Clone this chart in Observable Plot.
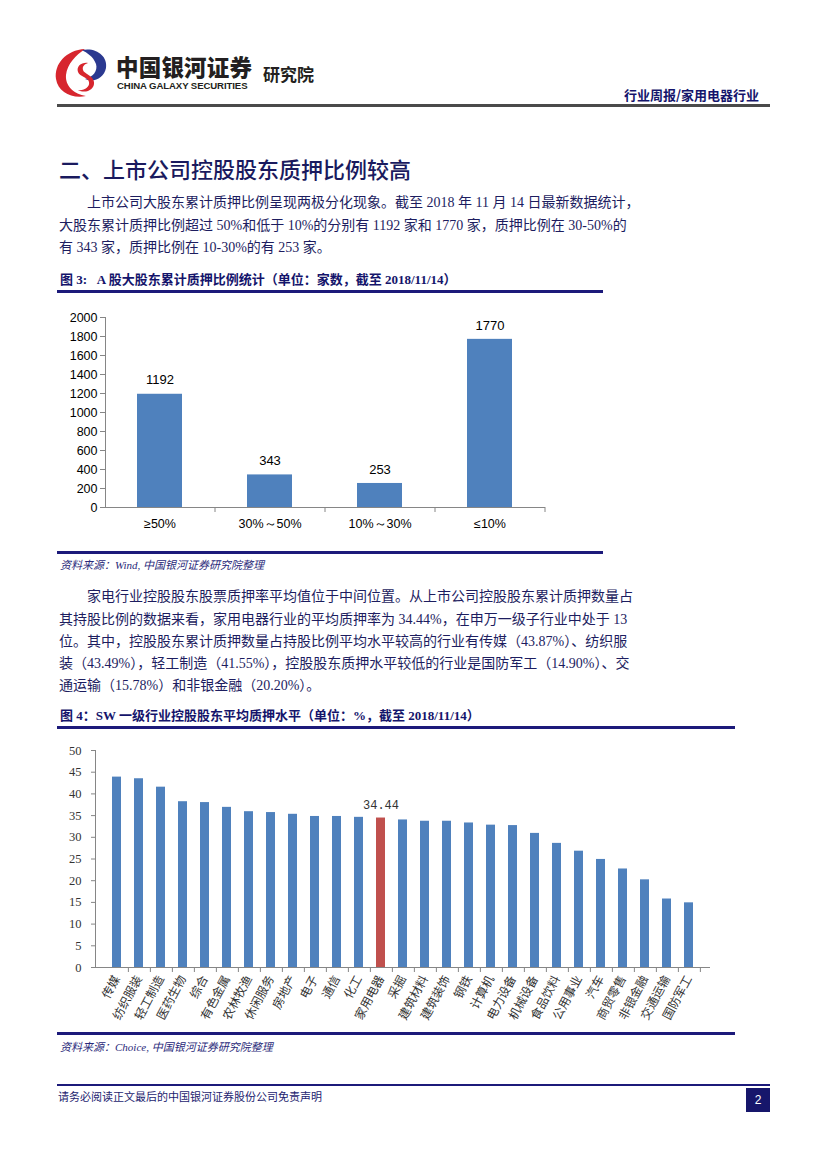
<!DOCTYPE html>
<html><head><meta charset="utf-8">
<script src="https://cdn.jsdelivr.net/npm/d3@7"></script>
<script src="https://cdn.jsdelivr.net/npm/@observablehq/plot@0.6"></script>
<style>
html,body{margin:0;padding:0;background:#fff;}
body{width:827px;height:1169px;position:relative;overflow:hidden;font-family:"Liberation Serif","Noto Sans CJK SC",serif;}
.abs{position:absolute;white-space:nowrap;}
.txt{color:#1d1d5f;font-size:14px;line-height:20px;height:20px;}
.just{text-align:justify;text-align-last:justify;}
.figt{color:#14146b;font-weight:bold;font-size:13px;line-height:20px;font-family:"Liberation Serif","Noto Sans CJK SC",serif;}
.rule{position:absolute;left:57px;background:#1c1a7a;}
.src{color:#2a2a7a;font-style:italic;font-size:11px;line-height:16px;}
</style></head>
<body>
<script>
// ---------- data ----------
const pledgeBuckets = ["≥50%", "30%～50%", "10%～30%", "≤10%"];
const pledgeCounts = [1192, 343, 253, 1770];
const countTicks = [0, 200, 400, 600, 800, 1000, 1200, 1400, 1600, 1800, 2000];

const industries = ["传媒","纺织服装","轻工制造","医药生物","综合","有色金属","农林牧渔","休闲服务","房地产","电子","通信","化工","家用电器","采掘","建筑材料","建筑装饰","钢铁","计算机","电力设备","机械设备","食品饮料","公用事业","汽车","商贸零售","非银金融","交通运输","国防军工"];
const industryPledge = [43.87,43.49,41.55,38.2,38.0,36.9,35.9,35.7,35.3,34.8,34.8,34.6,34.44,34.0,33.7,33.7,33.3,32.8,32.7,30.9,28.6,26.8,24.9,22.7,20.20,15.78,14.90];
const pctTicks = [0,5,10,15,20,25,30,35,40,45,50];
const highlightIndustry = "家用电器";

const para1 = [
  "上市公司大股东累计质押比例呈现两极分化现象。截至 2018 年 11 月 14 日最新数据统计，",
  "大股东累计质押比例超过 50%和低于 10%的分别有 1192 家和 1770 家，质押比例在 30-50%的",
  "有 343 家，质押比例在 10-30%的有 253 家。"
];
const para2 = [
  "家电行业控股股东股票质押率平均值位于中间位置。从上市公司控股股东累计质押数量占",
  "其持股比例的数据来看，家用电器行业的平均质押率为 34.44%，在申万一级子行业中处于 13",
  "位。其中，控股股东累计质押数量占持股比例平均水平较高的行业有传媒（43.87%）、纺织服",
  "装（43.49%），轻工制造（41.55%），控股股东质押水平较低的行业是国防军工（14.90%）、交",
  "通运输（15.78%）和非银金融（20.20%）。"
];

// ---------- page helpers ----------
function add(html){ document.body.insertAdjacentHTML("beforeend", html); }
function paragraph(lines, centers){
  lines.forEach((t,i)=>{
    const left = i===0 ? 87 : 59;
    const last = i===lines.length-1;
    add(`<div class="abs txt ${last?"":"just"}" style="left:${left}px;top:${centers[i]-10}px;width:${622-left}px;">${t}</div>`);
  });
}

// header
add(`<svg class="abs" style="left:52px;top:46px" width="58" height="54" viewBox="0 0 58 54">
<path d="M33 3 C14 4, 2 18, 4 33 C6 46, 20 53, 34 50 C22 48, 13 40, 14 29 C15 18, 24 9, 33 3 Z" fill="#d7262e"/>
<path d="M30 4 C44 1, 56 10, 54 22 C52 32, 42 37, 33 33 C41 31, 46 25, 44 18 C41 10, 35 7, 30 4 Z" fill="#2b3990"/>
<path d="M36 17 C30 16, 24 20, 26 26 C28 31, 36 31, 37 36 C38 41, 32 45, 26 44 C33 48, 43 44, 42 36 C41 29, 32 28, 31 24 C30 20, 33 18, 36 17 Z" fill="#d7262e"/>
</svg>`);
add(`<div class="abs" style="left:116px;top:52px;font-family:'Noto Sans CJK SC';font-weight:900;font-size:22.5px;line-height:28px;color:#231f20;letter-spacing:0.2px">中国银河证券</div>`);
add(`<div class="abs" style="left:117px;top:80px;font-family:'Liberation Sans';font-weight:bold;font-size:9.6px;line-height:12px;color:#231f20;letter-spacing:-0.1px">CHINA GALAXY SECURITIES</div>`);
add(`<div class="abs" style="left:263px;top:63px;font-family:'Noto Sans CJK SC';font-weight:700;font-size:17px;line-height:22px;color:#231f20">研究院</div>`);
add(`<div class="abs" style="left:624px;top:86px;font-family:'Noto Sans CJK SC';font-weight:700;font-size:13px;line-height:18px;color:#14146b">行业周报/家用电器行业</div>`);
add(`<div class="abs" style="left:57px;top:104px;width:713px;height:3px;background:#4a4a4a"></div>`);

// section title
add(`<div class="abs" style="left:59px;top:153px;font-family:'Noto Sans CJK SC';font-weight:500;font-size:22px;line-height:30px;color:#1a1a5e">二、上市公司控股股东质押比例较高</div>`);
paragraph(para1, [203, 225.5, 248]);

add(`<div class="abs figt" style="left:60px;top:270px">图 3:&nbsp;&nbsp; A 股大股东累计质押比例统计（单位：家数，截至 2018/11/14）</div>`);
add(`<div class="rule" style="top:290px;width:546px;height:2.5px"></div>`);
add(`<div class="abs" id="chart1" style="left:57px;top:300px"></div>`);
add(`<div class="rule" style="top:551px;width:546px;height:2.5px"></div>`);
add(`<div class="abs src" style="left:60px;top:557px">资料来源：Wind, 中国银河证券研究院整理</div>`);

paragraph(para2, [597, 620, 642, 664, 686]);
add(`<div class="abs figt" style="left:60px;top:706px">图 4：SW 一级行业控股股东平均质押水平（单位：%，截至 2018/11/14）</div>`);
add(`<div class="rule" style="top:726px;width:678px;height:2.5px"></div>`);
add(`<div class="abs" id="chart2" style="left:57px;top:735px"></div>`);
add(`<div class="rule" style="top:1032px;width:678px;height:2.5px"></div>`);
add(`<div class="abs src" style="left:60px;top:1039px">资料来源：Choice, 中国银河证券研究院整理</div>`);

// footer
add(`<div class="rule" style="top:1084px;width:713px;height:2px"></div>`);
add(`<div class="abs" style="left:58px;top:1088px;font-size:11px;line-height:16px;color:#1d1d6f;font-family:'Noto Sans CJK SC'">请务必阅读正文最后的中国银河证券股份公司免责声明</div>`);
add(`<div class="abs" style="left:746px;top:1088px;width:24px;height:24px;background:#16166b;color:#fff;font-family:'Liberation Sans';font-size:12px;line-height:24px;text-align:center">2</div>`);

// ---------- chart 1 ----------
const data1 = pledgeBuckets.map((c,i)=>({cat:c, v:pledgeCounts[i]}));
const W1=550, H1=245, ML1=48, MR1=62, MT1=17, MB1=38;
const step1 = (W1-ML1-MR1)/pledgeBuckets.length;
const axisGray = "#868686";
const chart1 = Plot.plot({
  width:W1, height:H1, marginLeft:ML1, marginRight:MR1, marginTop:MT1, marginBottom:MB1,
  style:{fontFamily:"'Liberation Sans', sans-serif", fontSize:"12.5px", background:"transparent", color:"#000"},
  x:{domain:pledgeBuckets, paddingInner:0.59, paddingOuter:0.295},
  y:{domain:[0,2000]},
  marks:[
    Plot.barY(data1,{x:"cat", y:"v", fill:"#4F81BD"}),
    Plot.text(data1,{x:"cat", y:"v", text:d=>String(d.v), dy:-14, fontSize:13, fill:"#000"}),
    Plot.ruleY([0],{stroke:axisGray}),
    Plot.frame({anchor:"left", stroke:axisGray}),
    Plot.axisY({ticks:countTicks, tickFormat:d=>String(d), tickSize:5, tickPadding:3, stroke:axisGray, fill:"#000", label:null}),
    Plot.axisX({tickSize:0, tickPadding:12, fill:"#000", label:null}),
    Plot.axisX({tickSize:5, tickFormat:()=>"", dx:step1/2, stroke:axisGray, label:null})
  ]
});
document.getElementById("chart1").appendChild(chart1);

// ---------- chart 2 ----------
const data2 = industries.map((c,i)=>({cat:c, v:industryPledge[i]}));
const W2=680, H2=297, ML2=38, MR2=27, MT2=15, MB2=65;
const step2 = (W2-ML2-MR2)/industries.length;
const chart2 = Plot.plot({
  width:W2, height:H2, marginLeft:ML2, marginRight:MR2, marginTop:MT2, marginBottom:MB2,
  style:{fontFamily:"'Liberation Serif','Noto Sans CJK SC', serif", fontSize:"12.5px", background:"transparent", color:"#333"},
  x:{domain:industries, paddingInner:0.58, paddingOuter:0.29},
  y:{domain:[0,50]},
  marks:[
    Plot.barY(data2,{x:"cat", y:"v", fill:d=>d.cat===highlightIndustry?"#C0504D":"#4F81BD"}),
    Plot.text(data2.filter(d=>d.cat===highlightIndustry),{x:"cat", y:"v", text:d=>d.v.toFixed(2), dy:-13, fontSize:12, fontFamily:"'Liberation Mono', monospace", fill:"#333"}),
    Plot.ruleY([0],{stroke:axisGray}),
    Plot.frame({anchor:"left", stroke:axisGray}),
    Plot.axisY({ticks:pctTicks, tickFormat:d=>String(d), tickSize:4, tickPadding:10, stroke:axisGray, fill:"#333", label:null}),
    Plot.axisX({tickSize:0, tickPadding:9, tickRotate:-62, fontSize:12, fill:"#333", label:null}),
    Plot.axisX({tickSize:5, tickFormat:()=>"", dx:step2/2, stroke:axisGray, label:null})
  ]
});
document.getElementById("chart2").appendChild(chart2);
</script>
</body></html>
